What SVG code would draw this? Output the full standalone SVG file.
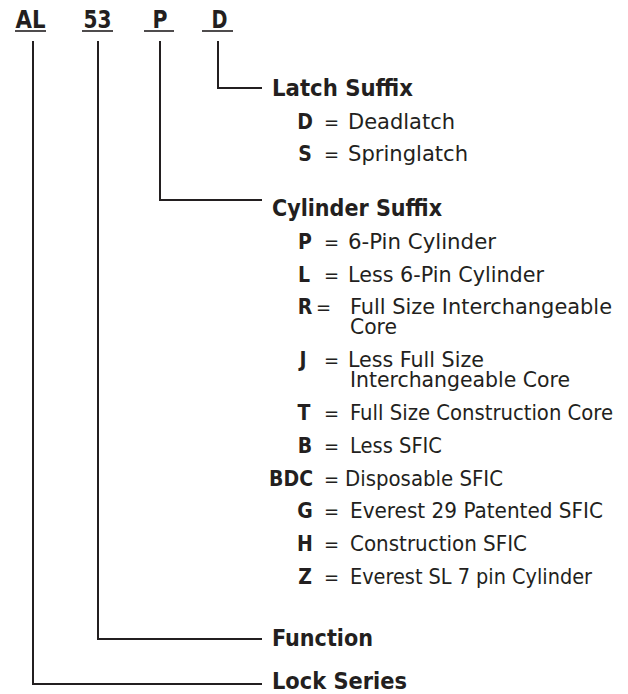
<svg xmlns="http://www.w3.org/2000/svg" width="628" height="694" viewBox="0 0 628 694">
<style>
text{font-family:"DejaVu Sans Condensed","Liberation Sans Narrow","Liberation Sans",sans-serif;fill:#231f20}
.t{font-weight:bold;font-size:25px}
.h{font-weight:bold;font-size:23px}
.k{font-weight:bold;font-size:21px}
.e{font-size:20px}
.d{font-size:20.5px}
.c{fill:none;stroke:#231f20;stroke-width:2}
.u{stroke:#231f20;stroke-width:1.6}
</style>
<rect width="628" height="694" fill="#fff"/>
<g id="header">
<text class="t" x="30.5" y="28" text-anchor="middle" textLength="30" lengthAdjust="spacingAndGlyphs">AL</text>
<text class="t" x="97.5" y="28" text-anchor="middle" textLength="28" lengthAdjust="spacingAndGlyphs">53</text>
<text class="t" x="160" y="28" text-anchor="middle" textLength="15" lengthAdjust="spacingAndGlyphs">P</text>
<text class="t" x="219.5" y="28" text-anchor="middle" textLength="16" lengthAdjust="spacingAndGlyphs">D</text>
<line class="u" x1="15" y1="31" x2="46" y2="31"/>
<line class="u" x1="82" y1="31" x2="113" y2="31"/>
<line class="u" x1="144" y1="31" x2="174" y2="31"/>
<line class="u" x1="202" y1="31" x2="233" y2="31"/>
</g>
<g id="connectors">
<polyline class="c" points="218,41 218,88 262,88"/>
<polyline class="c" points="160,41 160,200 262,200"/>
<polyline class="c" points="98,41 98,639 262,639"/>
<polyline class="c" points="33,41 33,684 262,684"/>
</g>
<g id="latch-suffix">
<text class="h" x="272" y="96" textLength="141" lengthAdjust="spacingAndGlyphs">Latch Suffix</text>
<text class="k" x="305" y="129" text-anchor="middle">D</text><text class="e" x="324" y="129">=</text><text class="d" x="348" y="129" textLength="107" lengthAdjust="spacingAndGlyphs">Deadlatch</text>
<text class="k" x="305" y="161" text-anchor="middle">S</text><text class="e" x="324" y="161">=</text><text class="d" x="348" y="161" textLength="120" lengthAdjust="spacingAndGlyphs">Springlatch</text>
</g>
<g id="cylinder-suffix">
<text class="h" x="272" y="216" textLength="170" lengthAdjust="spacingAndGlyphs">Cylinder Suffix</text>
<text class="k" x="305" y="249" text-anchor="middle">P</text><text class="e" x="324" y="249">=</text><text class="d" x="348" y="249" textLength="148" lengthAdjust="spacingAndGlyphs">6-Pin Cylinder</text>
<text class="k" x="304" y="282" text-anchor="middle">L</text><text class="e" x="324" y="282">=</text><text class="d" x="348" y="282" textLength="196" lengthAdjust="spacingAndGlyphs">Less 6-Pin Cylinder</text>
<text class="k" x="305" y="314" text-anchor="middle">R</text><text class="e" x="316" y="314">=</text>
<text class="d"><tspan x="350" y="314" textLength="262" lengthAdjust="spacingAndGlyphs">Full Size Interchangeable</tspan><tspan x="350" y="334" textLength="47" lengthAdjust="spacingAndGlyphs">Core</tspan></text>
<text class="k" x="303" y="367" text-anchor="middle">J</text><text class="e" x="324" y="367">=</text>
<text class="d"><tspan x="348" y="367" textLength="136" lengthAdjust="spacingAndGlyphs">Less Full Size</tspan><tspan x="350" y="387" textLength="220" lengthAdjust="spacingAndGlyphs">Interchangeable Core</tspan></text>
<text class="k" x="304" y="420" text-anchor="middle">T</text><text class="e" x="324" y="420">=</text><text class="d" x="350" y="420" textLength="263" lengthAdjust="spacingAndGlyphs">Full Size Construction Core</text>
<text class="k" x="305" y="453" text-anchor="middle">B</text><text class="e" x="324" y="453">=</text><text class="d" x="350" y="453" textLength="92" lengthAdjust="spacingAndGlyphs">Less SFIC</text>
<text class="k" x="313" y="486" text-anchor="end">BDC</text><text class="e" x="324" y="486">=</text><text class="d" x="345" y="486" textLength="158" lengthAdjust="spacingAndGlyphs">Disposable SFIC</text>
<text class="k" x="305" y="518" text-anchor="middle">G</text><text class="e" x="324" y="518">=</text><text class="d" x="350" y="518" textLength="253" lengthAdjust="spacingAndGlyphs">Everest 29 Patented SFIC</text>
<text class="k" x="305" y="551" text-anchor="middle">H</text><text class="e" x="324" y="551">=</text><text class="d" x="350" y="551" textLength="177" lengthAdjust="spacingAndGlyphs">Construction SFIC</text>
<text class="k" x="305" y="584" text-anchor="middle">Z</text><text class="e" x="324" y="584">=</text><text class="d" x="350" y="584" textLength="242" lengthAdjust="spacingAndGlyphs">Everest SL 7 pin Cylinder</text>
</g>
<g id="function">
<text class="h" x="272" y="646" textLength="101" lengthAdjust="spacingAndGlyphs">Function</text>
</g>
<g id="lock-series">
<text class="h" x="272" y="689" textLength="135" lengthAdjust="spacingAndGlyphs">Lock Series</text>
</g>
</svg>
